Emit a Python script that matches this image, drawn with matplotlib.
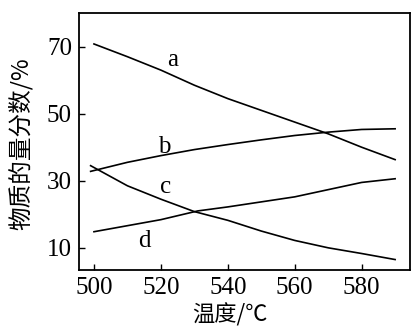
import matplotlib
matplotlib.use("Agg")
import matplotlib.pyplot as plt

# values (temperature in C, mole fraction in %)
temp_a = [500, 510, 520, 530, 540, 550, 560, 570, 580, 590]
frac_a = [70.8, 67.0, 63.0, 58.5, 54.5, 51.0, 47.5, 44.0, 40.0, 36.3]

temp_b = [499, 510, 520, 530, 540, 550, 560, 570, 580, 590]
frac_b = [32.8, 35.5, 37.5, 39.3, 40.8, 42.2, 43.5, 44.5, 45.3, 45.5]

temp_c = [499, 510, 520, 530, 540, 550, 560, 570, 580, 590]
frac_c = [34.5, 28.5, 24.5, 20.8, 18.2, 15.0, 12.2, 10.0, 8.3, 6.5]

temp_d = [500, 520, 531, 540, 560, 580, 590]
frac_d = [14.8, 18.4, 21.0, 22.2, 25.2, 29.5, 30.6]

curve_names = ["a", "b", "c", "d"]
name_pos = [(523.5, 66), (521, 40), (521.5, 28), (515, 12)]

x_ticks = [500, 520, 540, 560, 580]
y_ticks = [10, 30, 50, 70]

num_font = "Liberation Serif"
cjk_font = ["Noto Sans CJK SC", "DejaVu Sans"]

fig = plt.figure(figsize=(4.11, 3.28), dpi=100)
ax = fig.add_axes([0.192, 0.177, 0.806, 0.783])

for xs, ys in [(temp_a, frac_a), (temp_b, frac_b), (temp_c, frac_c), (temp_d, frac_d)]:
    ax.plot(xs, ys, color="black", lw=1.2)

for name, (px, py) in zip(curve_names, name_pos):
    ax.text(px, py, name, fontsize=18, family=num_font, ha="center", va="center")

ax.set_xlim(495.5, 594.5)
ax.set_ylim(3.4, 80)
ax.set_xticks(x_ticks)
ax.set_yticks(y_ticks)
ax.tick_params(direction="in", length=4, width=1, labelsize=18, pad=5)
for lab in ax.get_xticklabels() + ax.get_yticklabels():
    lab.set_family(num_font)
for sp in ax.spines.values():
    sp.set_linewidth(1.3)

ax.set_ylabel("物质的量分数/%", fontsize=17, family=cjk_font, fontweight="medium")
ax.yaxis.set_label_coords(-0.14, 0.49)
ax.set_xlabel("温度/℃", fontsize=16, family=cjk_font, fontweight="medium")
ax.xaxis.set_label_coords(0.455, -0.13)

fig.savefig("out.png", dpi=100)
